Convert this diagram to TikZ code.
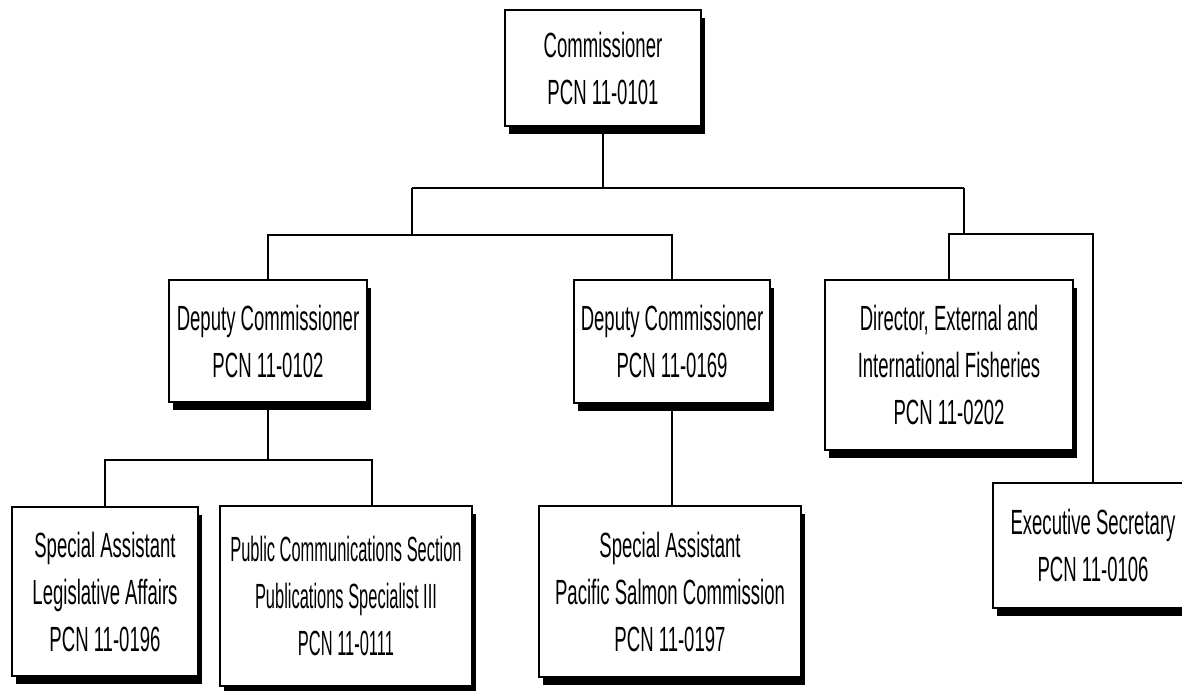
\documentclass[tikz,border=0pt]{standalone}
\usepackage{fontspec}
\setmainfont{Liberation Sans}[FakeStretch=0.53]
\newfontfamily\narrowfont{Liberation Sans}[FakeStretch=0.47]
\usetikzlibrary{shadows}

\begin{document}
\begin{tikzpicture}[x=1pt, y=-1pt, line width=2pt,
    every node/.style={font=\fontsize{35}{47}\selectfont},
    post/.style={draw, fill=white, line width=1.8pt, align=center, inner sep=1pt,
      drop shadow={shadow xshift=4pt, shadow yshift=-8pt, opacity=1, fill=black}}]
      \useasboundingbox (0,0) rectangle (1182,690);

      \node[post, minimum width=196, minimum height=116] (comm) at (603,68) {Commissioner\\PCN 11-0101};
      \node[post, minimum width=198, minimum height=122] (dep1) at (268,341) {Deputy Commissioner\\PCN 11-0102};
      \node[post, minimum width=196, minimum height=123] (dep2) at (672,341.5) {Deputy Commissioner\\PCN 11-0169};
      \node[post, minimum width=248, minimum height=170] (dir) at (949,365) {Director, External and\\International Fisheries\\PCN 11-0202};
      \node[post, minimum width=200, minimum height=125] (exec) at (1093,545.5) {Executive Secretary\\PCN 11-0106};
      \node[post, minimum width=186, minimum height=169] (leg) at (105,591.5) {Special Assistant\\Legislative Affairs\\PCN 11-0196};
      \node[post, minimum width=252, minimum height=180,
        font=\fontsize{35}{47}\narrowfont] (pub) at (346,596) {Public Communications Section\\Publications Specialist III\\PCN 11-0111};
      \node[post, minimum width=262, minimum height=171] (pac) at (670,591.5) {Special Assistant\\Pacific Salmon Commission\\PCN 11-0197};

      % junctions of the tree
      \coordinate (jl) at (412,188);
      \coordinate (jr) at (964,188);
      \coordinate (ml) at (412,235);
      \coordinate (mr) at (964,234);
      \coordinate (bl) at (268,460);

      \draw[] (comm.south) -- (comm.south |- jl);
      \draw[] (jl) -- (jr);
      \draw[] (jl) -- (ml);
      \draw[] (jr) -- (mr);
      \draw[] (dep1.north) |- (ml) -| (dep2.north);
      \draw[] (dir.north) |- (mr) -| (exec.north);
      \draw[] (dep1.south) -- (bl);
      \draw[] (leg.north) |- (bl) -| ([xshift=26pt]pub.north);
      \draw[] (dep2.south) -- (dep2.south |- pac.north);
    \end{tikzpicture}
\end{document}
